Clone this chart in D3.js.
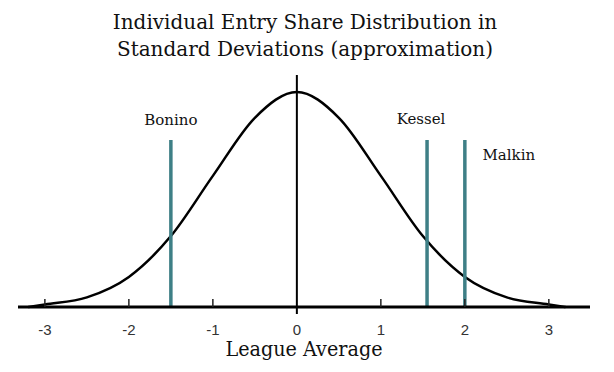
<!DOCTYPE html>
<meta charset="utf-8">
<style>
  body { margin: 0; background: #fff; }
  .title, .name, .xlabel { font-family: "DejaVu Serif", "Liberation Serif", serif; fill: #111; }
  .tick-label { font-family: "Liberation Sans", Arial, sans-serif; font-size: 15px; fill: #333; }
</style>
<svg width="614" height="372"></svg>
<script src="https://d3js.org/d3.v7.min.js"></script>
<script>
  // values
  var curveX = [-3.2, -3, -2.5, -2, -1.5, -1, -0.5, 0, 0.5, 1, 1.5, 2, 2.5, 3, 3.2];
  var curveY = [0, 0.012, 0.045, 0.14, 0.33, 0.61, 0.88, 1, 0.88, 0.61, 0.33, 0.14, 0.045, 0.012, 0];
  var players = ["Bonino", "Kessel", "Malkin"];
  var playerSd = [-1.5, 1.55, 2.0];
  var tickValues = [-3, -2, -1, 0, 1, 2, 3];
  var titleLines = ["Individual Entry Share Distribution in", "Standard Deviations (approximation)"];

  var svg = d3.select("svg");

  var x = d3.scaleLinear()
    .domain([-3.32, 3.49])
    .range([18, 590]);

  var y = d3.scaleLinear()
    .domain([0, 1])
    .range([307, 92]);

  // Title
  svg.append("g")
    .selectAll("text")
    .data(titleLines)
    .enter()
    .append("text")
    .attr("class", "title")
    .attr("x", 305)
    .attr("y", function (d, i) { return 29 + i * 27; })
    .attr("text-anchor", "middle")
    .style("font-size", "20px")
    .text(function (d) { return d; });

  // Curve
  var pts = curveX.map(function (v, i) { return [v, curveY[i]]; });
  var line = d3.line()
    .x(function (d) { return x(d[0]); })
    .y(function (d) { return y(d[1]); })
    .curve(d3.curveMonotoneX);

  svg.append("path")
    .datum(pts)
    .attr("d", line)
    .attr("fill", "none")
    .attr("stroke", "#000")
    .attr("stroke-width", 2.5);

  // Player lines
  svg.append("g")
    .selectAll("line")
    .data(playerSd)
    .enter()
    .append("line")
    .attr("x1", function (d) { return x(d); })
    .attr("x2", function (d) { return x(d); })
    .attr("y1", 140)
    .attr("y2", y(0))
    .attr("stroke", "#3e7f86")
    .attr("stroke-width", 3.5);

  var labelPos = [[0, 125], [-6, 124], [44, 160]];
  svg.append("g")
    .selectAll("text")
    .data(players)
    .enter()
    .append("text")
    .attr("class", "name")
    .attr("x", function (d, i) { return x(playerSd[i]) + labelPos[i][0]; })
    .attr("y", function (d, i) { return labelPos[i][1]; })
    .attr("text-anchor", "middle")
    .style("font-size", "15px")
    .text(function (d) { return d; });

  // x axis
  var axis = svg.append("g");
  axis.append("line")
    .attr("x1", x.range()[0])
    .attr("x2", x.range()[1])
    .attr("y1", y(0))
    .attr("y2", y(0))
    .attr("stroke", "#000")
    .attr("stroke-width", 3);

  axis.selectAll(".tk")
    .data(tickValues.filter(function (d) { return d !== 0; }))
    .enter()
    .append("line")
    .attr("x1", function (d) { return x(d); })
    .attr("x2", function (d) { return x(d); })
    .attr("y1", y(0) - 8)
    .attr("y2", y(0))
    .attr("stroke", "#222")
    .attr("stroke-width", 1.5);

  axis.selectAll(".tick-label")
    .data(tickValues)
    .enter()
    .append("text")
    .attr("class", "tick-label")
    .attr("x", function (d) { return x(d); })
    .attr("y", 335)
    .attr("text-anchor", "middle")
    .text(function (d) { return d < 0 ? "-" + Math.abs(d) : d; });

  // center (league average) line
  svg.append("line")
    .attr("x1", x(0))
    .attr("x2", x(0))
    .attr("y1", 75)
    .attr("y2", 314)
    .attr("stroke", "#000")
    .attr("stroke-width", 2);

  svg.append("text")
    .attr("class", "xlabel")
    .attr("x", 304)
    .attr("y", 356)
    .attr("text-anchor", "middle")
    .attr("textLength", 157)
    .attr("lengthAdjust", "spacingAndGlyphs")
    .style("font-size", "21px")
    .text("League Average");
</script>
